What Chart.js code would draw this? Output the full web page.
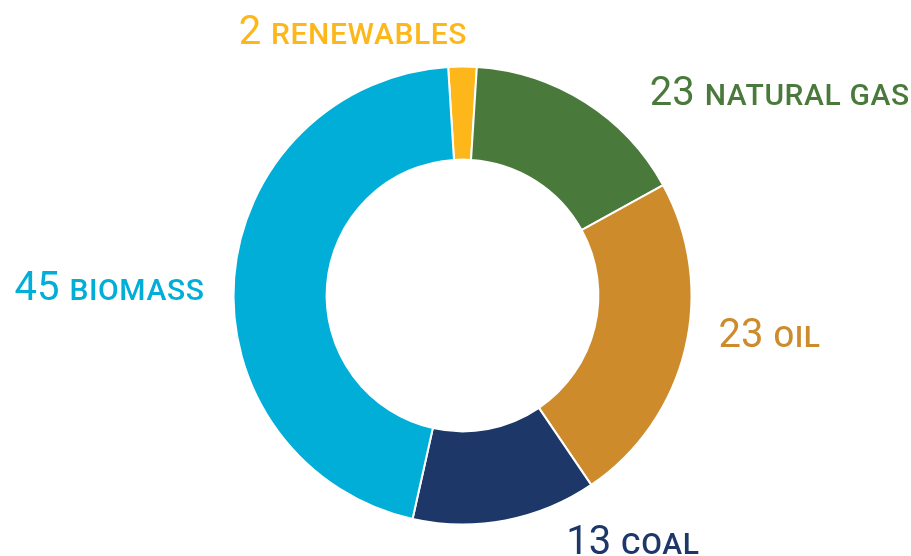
<!DOCTYPE html>
<html>
<head>
<meta charset="utf-8">
<script src="https://cdn.jsdelivr.net/npm/chart.js@4"></script>
<style>
  html, body { margin: 0; padding: 0; background: #fff; }
  #wrap { width: 911px; height: 556px; position: relative; }
</style>
</head>
<body>
<div id="wrap"><canvas id="energyChart" width="911" height="556"></canvas></div>
<script>
// data
const categories = ['RENEWABLES', 'NATURAL GAS', 'OIL', 'COAL', 'BIOMASS'];
const shares = [2, 16, 23.5, 13, 45.5];        // arc sizes as drawn
const labelNumbers = [2, 23, 23, 13, 45];      // numbers printed next to each arc
const colors = ['#FDB71A', '#4A7A3B', '#CE8B2B', '#1C3768', '#00AED8'];

// where each label sits, in outer-radius units from the centre
const labelLayout = [
    { dx: 0.02, dy: -1.10, align: 'right' },
    { dx: 0.818, dy: -0.83, align: 'left' },
    { dx: 1.118, dy: 0.225, align: 'left' },
    { dx: 0.453, dy: 1.131, align: 'left' },
    { dx: -1.127, dy: 0.02, align: 'right' }
];

const outsideLabels = {
    id: 'outsideLabels',
    afterDraw(chart) {
        const ctx = chart.ctx;
        const arcs = chart.getDatasetMeta(0).data;
        const cx = arcs[0].x, cy = arcs[0].y, r = arcs[0].outerRadius;
        const numFont = '400 40px Roboto';
        const nameFont = '500 30px Roboto';

        ctx.save();
        ctx.textBaseline = 'alphabetic';
        categories.forEach((name, i) => {
            const pos = labelLayout[i];
            const num = String(labelNumbers[i]) + ' ';
            ctx.letterSpacing = '0px';
            ctx.font = numFont;
            const numW = ctx.measureText(num).width;
            ctx.font = nameFont;
            ctx.letterSpacing = '0.6px';
            const nameW = ctx.measureText(name).width;

            let x = cx + pos.dx * r;
            const y = cy + pos.dy * r;
            if (pos.align === 'right') x -= numW + nameW;

            ctx.fillStyle = colors[i];
            ctx.textAlign = 'left';
            ctx.letterSpacing = '0px';
            ctx.font = numFont;
            ctx.fillText(num, x, y);
            ctx.letterSpacing = '0.6px';
            ctx.font = nameFont;
            ctx.fillText(name, x + numW, y);
        });
        ctx.restore();
    }
};

const ctx = document.getElementById('energyChart').getContext('2d');
const energyChart = new Chart(ctx, {
    type: 'doughnut',
    data: {
        labels: categories,
        datasets: [{
            data: shares,
            backgroundColor: colors,
            borderColor: '#ffffff',
            borderWidth: 2
        }]
    },
    options: {
        responsive: false,
        animation: false,
        rotation: -3.6,
        radius: 229,
        cutout: 135,
        layout: {
            padding: { left: 234, right: 220, top: 67, bottom: 32 }
        },
        plugins: {
            legend: { display: false },
            tooltip: { enabled: false }
        }
    },
    plugins: [outsideLabels]
});
</script>
</body>
</html>
